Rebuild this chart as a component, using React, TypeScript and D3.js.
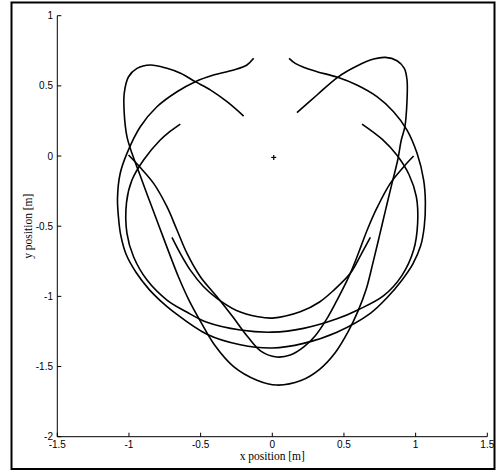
import React from "react";
import * as d3 from "d3";

const xTicks = [-1.5, -1, -0.5, 0, 0.5, 1, 1.5];
const yTicks = [-2, -1.5, -1, -0.5, 0, 0.5, 1];
const xLabel = "x position [m]";
const yLabel = "y position [m]";

// Large near-circle, open at the top
const curveA: [number, number][] = [
  [-0.13, 0.696], [-0.177, 0.649], [-0.27, 0.613], [-0.41, 0.577], [-0.537, 0.53],
  [-0.665, 0.458], [-0.805, 0.351], [-0.921, 0.209], [-1.014, 0.019], [-1.061, -0.123],
  [-1.08, -0.3], [-1.072, -0.45], [-1.058, -0.56], [-1.02, -0.7], [-0.95, -0.83],
  [-0.86, -0.95], [-0.782, -1.03], [-0.689, -1.11], [-0.456, -1.27], [-0.223, -1.345],
  [0.0, -1.368], [0.218, -1.335], [0.451, -1.255], [0.684, -1.121], [0.8, -1.01],
  [0.9, -0.89], [0.98, -0.77], [1.035, -0.64], [1.06, -0.504], [1.068, -0.33],
  [1.056, -0.171], [1.01, 0.019], [0.94, 0.185], [0.846, 0.316], [0.73, 0.423],
  [0.59, 0.506], [0.456, 0.561], [0.312, 0.601], [0.218, 0.632], [0.16, 0.66],
  [0.117, 0.696],
];

// Inner near-circle, open at the top
const curveC: [number, number][] = [
  [-0.642, 0.228], [-0.72, 0.17], [-0.782, 0.114], [-0.898, -0.028], [-0.979, -0.171],
  [-1.017, -0.33], [-1.014, -0.551], [-0.968, -0.718], [-0.874, -0.884], [-0.735, -1.026],
  [-0.6, -1.11], [-0.456, -1.185], [-0.223, -1.24], [0.0, -1.255], [0.218, -1.228],
  [0.451, -1.16], [0.6, -1.095], [0.777, -0.995], [0.905, -0.85], [0.986, -0.67],
  [1.014, -0.48], [1.005, -0.29], [0.955, -0.135], [0.87, 0.005], [0.766, 0.12],
  [0.626, 0.228],
];

// Two-lobed curve
const curveB: [number, number][] = [
  [-0.2, 0.285], [-0.316, 0.387], [-0.43, 0.47], [-0.537, 0.53], [-0.64, 0.59],
  [-0.735, 0.625], [-0.851, 0.649], [-0.944, 0.625], [-1.003, 0.565], [-1.033, 0.447],
  [-1.033, 0.304], [-1.014, 0.138], [-0.979, 0.019], [-0.925, -0.13], [-0.86, -0.31],
  [-0.79, -0.5], [-0.72, -0.69], [-0.655, -0.86], [-0.58, -1.03], [-0.5, -1.18],
  [-0.4, -1.35], [-0.27, -1.5], [-0.107, -1.597], [0.03, -1.632], [0.2, -1.6],
  [0.33, -1.52], [0.44, -1.4], [0.53, -1.25], [0.6, -1.1], [0.655, -0.95],
  [0.7, -0.77], [0.745, -0.58], [0.79, -0.385], [0.835, -0.195], [0.875, -0.028],
  [0.9, 0.114], [0.925, 0.209], [0.94, 0.399], [0.94, 0.542], [0.921, 0.625],
  [0.87, 0.679], [0.789, 0.703], [0.707, 0.691], [0.59, 0.641], [0.456, 0.561],
  [0.312, 0.435], [0.172, 0.309],
];

// Deep U from (-1,0) to (1,0)
const curveE: [number, number][] = [
  [-1.003, 0.007], [-0.921, -0.082], [-0.828, -0.195], [-0.735, -0.361], [-0.665, -0.527],
  [-0.595, -0.694], [-0.502, -0.86], [-0.386, -1.003], [-0.28, -1.14], [-0.17, -1.29],
  [-0.08, -1.39], [0.03, -1.432], [0.126, -1.418], [0.22, -1.36], [0.3, -1.28],
  [0.38, -1.16], [0.45, -1.03], [0.52, -0.89], [0.575, -0.76], [0.62, -0.64],
  [0.665, -0.52], [0.73, -0.37], [0.823, -0.195], [0.917, -0.076], [0.986, 0.0],
];

// Shallow U in the middle
const curveD: [number, number][] = [
  [-0.7, -0.58], [-0.642, -0.694], [-0.572, -0.813], [-0.479, -0.931], [-0.386, -1.014],
  [-0.25, -1.1], [-0.1, -1.145], [0.0, -1.155], [0.195, -1.11], [0.33, -1.04],
  [0.43, -0.955], [0.544, -0.836], [0.62, -0.7], [0.684, -0.58],
];

const marker: [number, number] = [0.01, -0.01];

const curves = [curveA, curveB, curveC, curveD, curveE];

export default function App() {
  const W = 496;
  const H = 472;
  const x = d3.scaleLinear().domain([-1.5, 1.5]).range([57.3, 487.3]);
  const y = d3.scaleLinear().domain([-2, 1]).range([436.7, 15.7]);
  const line = d3
    .line<[number, number]>()
    .x((d) => x(d[0]))
    .y((d) => y(d[1]))
    .curve(d3.curveCatmullRom.alpha(0.5));
  const tickFont = "Liberation Sans, Arial, sans-serif";
  const labelFont = "Liberation Serif, Times New Roman, serif";
  const mx = x(marker[0]);
  const my = y(marker[1]);
  return (
    <svg
      width={W}
      height={H}
      style={{ position: "absolute", left: 0, top: 0, background: "#fff" }}
    >
      <rect x={0} y={0} width={W} height={H} fill="#fff" />
      <rect x={11.5} y={2.5} width={483} height={466.5} fill="none" stroke="#000" strokeWidth={2} />
      <line x1={x(-1.5)} y1={y(-2)} x2={x(1.5)} y2={y(-2)} stroke="#000" strokeWidth={1} />
      <line x1={x(-1.5)} y1={y(-2)} x2={x(-1.5)} y2={y(1)} stroke="#000" strokeWidth={1} />
      {xTicks.map((t) => (
        <g key={"x" + t}>
          <line x1={x(t)} x2={x(t)} y1={y(-2)} y2={y(-2) - 4} stroke="#000" strokeWidth={1} />
          <text
            x={x(t)}
            y={448}
            textAnchor="middle"
            fontFamily={tickFont}
            fontSize={10}
            fill="#000"
          >
            {String(t)}
          </text>
        </g>
      ))}
      {yTicks.map((t) => (
        <g key={"y" + t}>
          <line x1={x(-1.5)} x2={x(-1.5) + 4} y1={y(t)} y2={y(t)} stroke="#000" strokeWidth={1} />
          <text
            x={53}
            y={y(t) + 3.5}
            textAnchor="end"
            fontFamily={tickFont}
            fontSize={10}
            fill="#000"
          >
            {String(t)}
          </text>
        </g>
      ))}
      <text
        x={(x(-1.5) + x(1.5)) / 2}
        y={460}
        textAnchor="middle"
        fontFamily={labelFont}
        fontSize={11.5}
        fill="#000"
      >
        {xLabel}
      </text>
      <text
        transform={`translate(32,${(y(-2) + y(1)) / 2}) rotate(-90)`}
        textAnchor="middle"
        fontFamily={labelFont}
        fontSize={11.5}
        fill="#000"
      >
        {yLabel}
      </text>
      {curves.map((c, i) => (
        <path key={i} d={line(c) || ""} fill="none" stroke="#000" strokeWidth={1.6} strokeLinejoin="round" />
      ))}
      <line x1={mx - 2.5} x2={mx + 2.5} y1={my} y2={my} stroke="#000" strokeWidth={1.2} />
      <line x1={mx} x2={mx} y1={my - 2.5} y2={my + 2.5} stroke="#000" strokeWidth={1.2} />
    </svg>
  );
}
